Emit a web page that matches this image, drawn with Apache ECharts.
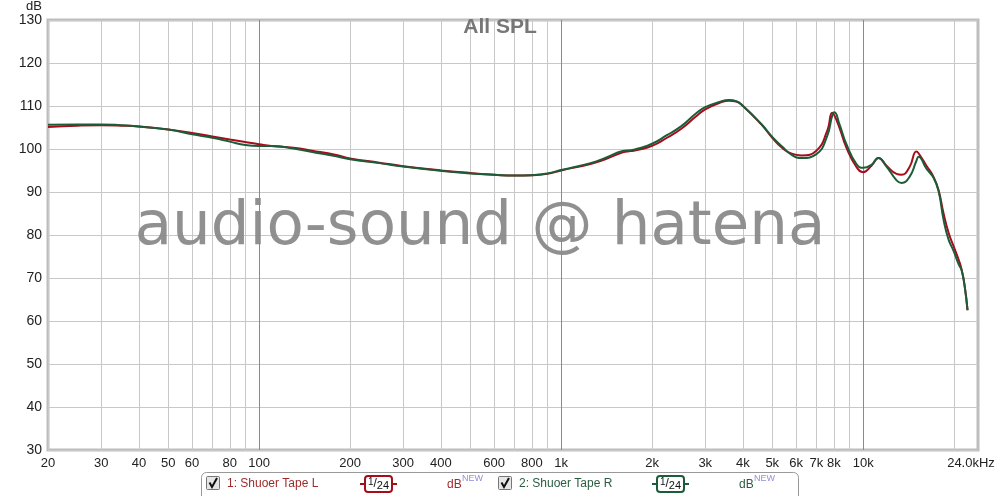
<!DOCTYPE html>
<html>
<head>
<meta charset="utf-8">
<script src="https://cdn.jsdelivr.net/npm/echarts/dist/echarts.min.js"></script>
<style>
html,body{margin:0;padding:0;background:#fff;}
#chart{width:1000px;height:496px;}
</style>
</head>
<body>
<div id="chart"></div>
<script>
// ---- data ----
const freqs = [20,25,30,35,40,50,60,70,80,90,100,110,130,150,180,200,250,300,400,500,600,700,800,900,1000,1250,1400,1600,1700,1800,2000,2240,2500,2800,3000,3400,3600,3800,4000,4600,5000,5400,5800,6250,7000,7600,7900,8030,8350,8800,9500,10000,10650,11240,11950,12900,13400,14240,15000,15250,16200,17100,17770,18460,19180,19920,20700,21180,21670,22160];
const splL = [105.1,105.4,105.5,105.4,105.2,104.5,103.7,102.9,102.2,101.6,101.1,100.7,100.3,99.6,98.6,97.8,96.8,96.0,95.0,94.4,94.0,93.8,93.9,94.2,95.0,96.5,97.6,99.2,99.5,99.8,100.7,102.6,104.7,107.6,109.2,110.9,111.2,111.0,110.0,105.7,102.6,100.2,98.9,98.5,99.6,104.2,108.4,107.8,104.9,100.3,95.8,94.6,96.1,97.9,96.1,94.2,94.0,95.8,99.4,99.0,96.1,93.5,90.4,85.0,80.5,77.4,74.3,72.0,68.2,62.5];
const splR = [105.6,105.7,105.7,105.5,105.2,104.5,103.4,102.6,101.7,100.9,100.7,100.7,100.1,99.3,98.3,97.6,96.7,95.9,94.9,94.3,94.0,93.8,93.9,94.3,95.1,96.7,97.9,99.5,99.7,100.1,101.2,103.2,105.3,108.3,109.7,111.1,111.35,111.1,110.0,105.8,102.8,100.5,98.6,97.9,98.8,103.0,107.8,108.5,105.7,101.1,96.5,95.6,96.3,97.9,95.9,92.7,92.1,93.5,97.2,98.2,95.4,93.3,90.2,83.5,78.9,76.3,73.2,71.8,68.2,62.5];
const xGridValues = [20,30,40,50,60,70,80,90,100,200,300,400,500,600,700,800,900,1000,2000,3000,4000,5000,6000,7000,8000,9000,10000,20000];
const xLabelValues = [20,30,40,50,60,80,100,200,300,400,600,800,1000,2000,3000,4000,5000,6000,7000,8000,10000,24000];
const xMajorValues = [100,1000,10000];
const yMin = 30, yMax = 130, yStep = 10;
const titleText = 'All SPL';
const watermarkText = 'audio-sound @ hatena';
const seriesNames = ['1: Shuoer Tape L', '2: Shuoer Tape R'];

const RED = '#a50d1a';
const GREEN = '#1c5c38';
const FONT = '"Liberation Sans", Arial, sans-serif';

function fmtX(v) {
  if (v >= 24000) return '{m|24.0kHz}';
  if (v >= 1000) return (v / 1000) + 'k';
  return String(v);
}

function legendItem(x0, name, color, textColor) {
  return [
    { type: 'rect', shape: { x: x0 + 0.5, y: 476.5, width: 13, height: 13, r: 1 },
      style: { fill: '#e6e6e6', stroke: '#777', lineWidth: 1 } },
    { type: 'polyline', shape: { points: [[x0 + 3.5, 482.5], [x0 + 6, 487], [x0 + 11, 478]] },
      style: { stroke: '#111', lineWidth: 2, fill: null } },
    { type: 'text', x: x0 + 21, y: 484,
      style: { text: name, fill: textColor, font: '12px ' + FONT, verticalAlign: 'middle', align: 'left' } },
    { type: 'line', shape: { x1: x0 + 154, y1: 484, x2: x0 + 191, y2: 484 },
      style: { stroke: color, lineWidth: 2 } },
    { type: 'rect', shape: { x: x0 + 159, y: 476, width: 27, height: 16, r: 3 },
      style: { fill: '#fff', stroke: color, lineWidth: 2 } },
    { type: 'text', x: x0 + 172.5, y: 484,
      style: { text: '{a|1}{s|/}{b|24}', align: 'center', verticalAlign: 'middle',
        rich: {
          a: { fontSize: 10, fontFamily: FONT, fill: '#111', verticalAlign: 'top', lineHeight: 14 },
          s: { fontSize: 12, fontFamily: FONT, fill: '#111', lineHeight: 14 },
          b: { fontSize: 11, fontFamily: FONT, fill: '#111', verticalAlign: 'bottom', lineHeight: 14 }
        } } },
    { type: 'text', x: x0 + 241, y: 485,
      style: { text: 'dB', fill: textColor, font: '12px ' + FONT, verticalAlign: 'middle', align: 'left' } },
    { type: 'text', x: x0 + 256, y: 479,
      style: { text: 'NEW', fill: '#8f8fe0', font: '9px ' + FONT, verticalAlign: 'middle', align: 'left' } }
  ];
}

const chart = echarts.init(document.getElementById('chart'), null, { renderer: 'canvas' });
chart.setOption({
  backgroundColor: '#ffffff',
  animation: false,
  title: {
    text: titleText, left: 'center', top: 12,
    textStyle: { fontSize: 21, fontWeight: 'bold', color: '#777777', fontFamily: FONT }
  },
  grid: { left: 48, right: 22, top: 14, bottom: 46, show: true, borderColor: '#bdbdbd', borderWidth: 3, backgroundColor: 'transparent' },
  xAxis: [
    {
      type: 'log', logBase: 10, min: 20, max: 24000,
      axisLine: { show: false },
      axisTick: { show: false, customValues: xGridValues },
      splitLine: { show: true, lineStyle: { color: '#c8c8c8', width: 1 } },
      axisLabel: {
        customValues: xLabelValues, formatter: fmtX, margin: 7,
        fontSize: 13, color: '#222', fontFamily: FONT,
        showMinLabel: true, showMaxLabel: true,
        rich: { m: { fontSize: 13, color: '#222', fontFamily: FONT, padding: [0, 14, 0, 0] } }
      }
    },
    {
      type: 'log', logBase: 10, min: 20, max: 24000, position: 'bottom',
      axisLine: { show: false }, axisLabel: { show: false },
      axisTick: { show: false, customValues: xMajorValues },
      splitLine: { show: true, lineStyle: { color: '#8a8a8a', width: 1 } }
    }
  ],
  yAxis: {
    type: 'value', min: yMin, max: yMax, interval: yStep,
    name: 'dB', nameLocation: 'end', nameGap: 1,
    nameTextStyle: { fontSize: 13, color: '#222', fontFamily: FONT, align: 'right', padding: [0, 6, -2, 0] },
    axisLine: { show: false }, axisTick: { show: false },
    axisLabel: { fontSize: 14, color: '#222', fontFamily: FONT, margin: 6 },
    splitLine: { show: true, lineStyle: { color: '#c8c8c8', width: 1 } }
  },
  series: [
    {
      name: seriesNames[0], type: 'line', xAxisIndex: 0,
      data: freqs.map((f, i) => [f, splL[i]]),
      showSymbol: false, smooth: 0.5,
      lineStyle: { color: RED, width: 2 }, itemStyle: { color: RED }, z: 3
    },
    {
      name: seriesNames[1], type: 'line', xAxisIndex: 0,
      data: freqs.map((f, i) => [f, splR[i]]),
      showSymbol: false, smooth: 0.5,
      lineStyle: { color: GREEN, width: 2 }, itemStyle: { color: GREEN }, z: 4
    }
  ],
  graphic: [
    { type: 'text', x: 480, y: 228, z: 1,
      style: { text: watermarkText, fill: '#8a8a8a', opacity: 0.95, font: '61px "DejaVu Sans", sans-serif', align: 'center', verticalAlign: 'middle' } },
    { type: 'rect', shape: { x: 201.5, y: 472.5, width: 597, height: 30, r: 5 },
      style: { fill: '#fff', stroke: '#999', lineWidth: 1 } },
    ...legendItem(206, seriesNames[0], RED, '#9e2a2a'),
    ...legendItem(498, seriesNames[1], GREEN, '#2b5e40')
  ]
});
</script>
</body>
</html>
